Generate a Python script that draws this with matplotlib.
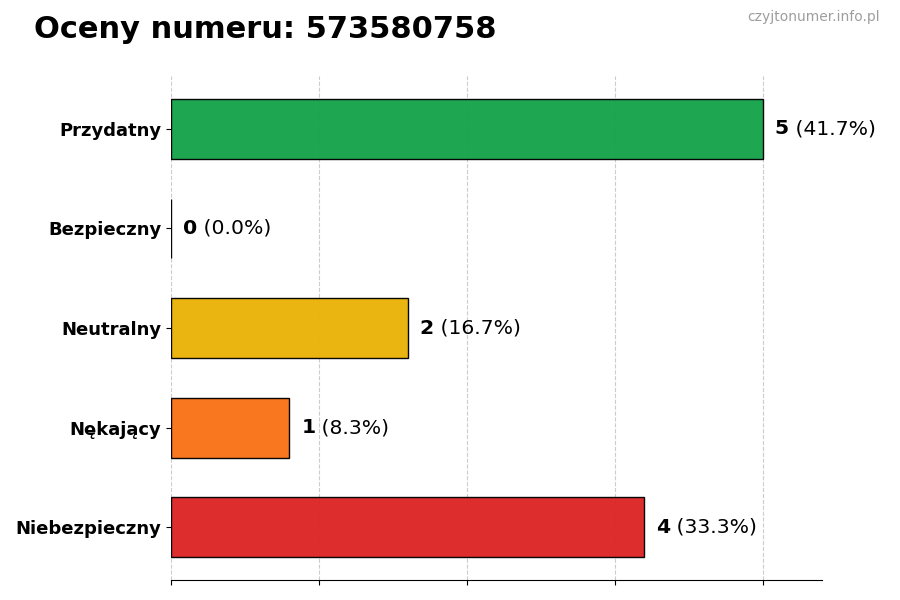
import matplotlib
matplotlib.use("Agg")
import matplotlib.pyplot as plt
import numpy as np

# data
categories = ["Przydatny", "Bezpieczny", "Neutralny", "Nękający", "Niebezpieczny"]
counts = [5, 0, 2, 1, 4]
bar_colors = ["#16a34a", "#9ca3af", "#eab308", "#f97316", "#dc2626"]
number = "573580758"

total = sum(counts)
percents = [100.0 * c / total for c in counts]

fig = plt.figure(figsize=(9, 6), dpi=100)
ax = fig.add_axes([0.19, 0.0333, 0.7233, 0.84])

ypos = np.arange(len(categories))
ax.barh(ypos, counts, height=0.6, color=bar_colors, edgecolor="black",
        linewidth=1, alpha=0.97, zorder=2)
ax.invert_yaxis()
ax.set_yticks(ypos)
ax.set_yticklabels(categories, fontsize=13, fontweight="bold")

ax.set_xlim(0, 5.5)
ax.set_xticks(np.linspace(0, max(counts), 5))
ax.set_xticklabels([])
ax.set_axisbelow(True)
ax.grid(axis="x", linestyle="--", color="#cccccc", linewidth=0.8)

for side in ["left", "top", "right"]:
    ax.spines[side].set_visible(False)

for y, c, p in zip(ypos, counts, percents):
    t = ax.text(c + 0.1, y, str(c), fontsize=14.7, fontweight="bold",
                va="center", ha="left")
    ax.annotate(" ({:.1f}%)".format(p), xy=(1, 0), xycoords=t,
                fontsize=14.7, va="bottom", ha="left")

fig.text(0.038, 0.95, "Oceny numeru: " + number, fontsize=22,
         fontweight="bold", va="center", ha="left")
fig.text(0.978, 0.972, "czyjtonumer.info.pl", fontsize=10, color="#9e9e9e",
         va="center", ha="right")

fig.savefig("out.png", dpi=100)
